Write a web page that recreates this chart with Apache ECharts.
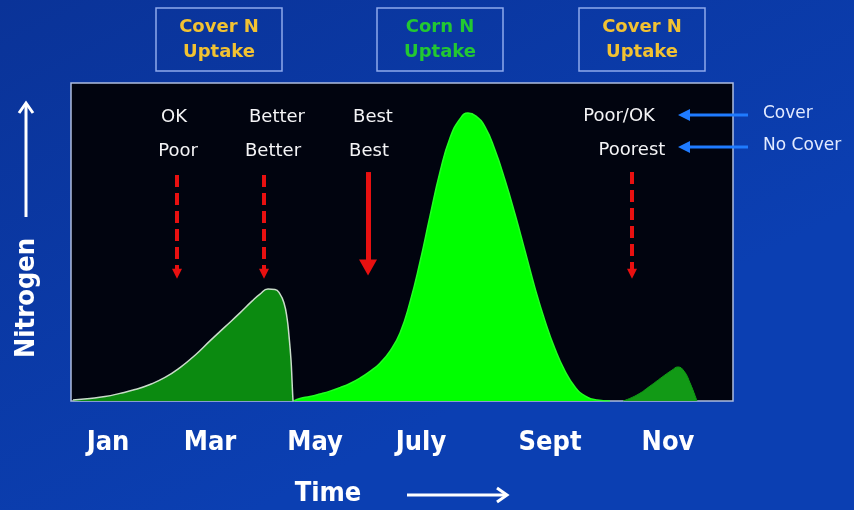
<!DOCTYPE html>
<html>
<head>
<meta charset="utf-8">
<script src="https://cdn.jsdelivr.net/npm/echarts@6/dist/echarts.min.js"></script>
<style>
  html, body { margin: 0; padding: 0; background: #0a3aa8; }
  #chart { width: 854px; height: 510px; }
</style>
</head>
<body>
<div id="chart"></div>
<script>
// Month axis (0 = start of January, 12 = end of December)
const monthLabels = ['Jan', 'Mar', 'May', 'July', 'Sept', 'Nov'];
const monthTickPos = [0.671, 2.520, 4.423, 6.344, 8.683, 10.822];

// Relative soil nitrogen uptake, [month, level]
const coverSpring = [[0.036,0.3],[0.344,0.8],[0.616,1.4],[0.888,2.4],[1.160,3.6],[1.432,5.2],[1.704,7.4],
  [1.976,10.5],[2.248,14.4],[2.519,18.9],[2.791,23.3],[3.063,27.7],[3.281,31.4],[3.426,33.6],
  [3.571,35.2],[3.698,35.1],[3.789,33.6],[3.861,30.8],[3.916,26.1],[3.952,20.4],[3.988,12.9],
  [4.006,6.6],[4.024,0.3],[4.03,0]];
const cornUptake = [[4.04,0],[4.151,0.8],[4.332,1.4],[4.514,2.2],[4.695,3.1],[4.876,4.2],[5.058,5.5],
  [5.239,7.2],[5.420,9.3],[5.601,11.9],[5.782,15.7],[5.964,21.4],[6.145,31.1],[6.326,43.7],
  [6.508,58.2],[6.689,72.0],[6.870,82.7],[7.051,88.7],[7.196,90.6],[7.341,89.6],[7.505,86.2],
  [7.686,78.9],[7.867,69.5],[8.048,58.8],[8.230,47.2],[8.411,35.5],[8.592,25.2],[8.773,16.4],
  [8.955,9.4],[9.136,4.4],[9.317,1.6],[9.535,0.3],[9.77,0]];
const coverFall = [[10.006,0],[10.26,1.9],[10.496,4.7],[10.713,7.5],[10.894,9.7],[11.003,10.7],
  [11.112,9.4],[11.221,5.7],[11.347,0]];

// Leaching-risk notes: [month, level, text]
const riskNotes = [
  [1.867, 89.3, 'OK'], [1.940, 78.6, 'Poor'],
  [3.734, 89.3, 'Better'], [3.662, 78.6, 'Better'],
  [5.474, 89.3, 'Best'], [5.402, 78.6, 'Best'],
  [9.934, 89.6, 'Poor/OK'], [10.169, 78.9, 'Poorest']
];
// Downward arrows: [month, fromLevel, toLevel, solid]
const riskArrows = [
  [1.921, 71.1, 40.0, false],
  [3.499, 71.1, 40.0, false],
  [5.384, 72.0, 42.0, true],
  [10.169, 72.0, 40.0, false]
];

const boxTitles = [
  { line1: 'Cover N', line2: 'Uptake', color: '#f2c232', x: 156 },
  { line1: 'Corn N', line2: 'Uptake', color: '#22c832', x: 377 },
  { line1: 'Cover N', line2: 'Uptake', color: '#f2c232', x: 579 }
];

const labelFont = "'DejaVu Sans Condensed', 'DejaVu Sans', sans-serif";

const chart = echarts.init(document.getElementById('chart'));

const graphic = [];
boxTitles.forEach(b => {
  graphic.push({
    type: 'rect', shape: { x: b.x, y: 8, width: 126, height: 63 },
    style: { fill: 'none', stroke: '#8fa9ec', lineWidth: 1.5 }
  });
  graphic.push({
    type: 'text', x: b.x + 63, y: 27,
    style: { text: b.line1, fill: b.color, font: "bold 18px 'DejaVu Sans', sans-serif", align: 'center', verticalAlign: 'middle' }
  });
  graphic.push({
    type: 'text', x: b.x + 63, y: 52,
    style: { text: b.line2, fill: b.color, font: "bold 18px 'DejaVu Sans', sans-serif", align: 'center', verticalAlign: 'middle' }
  });
});
// Cover / No Cover legend arrows
[[115, 'Cover'], [147, 'No Cover']].forEach(([y, t]) => {
  graphic.push({ type: 'line', shape: { x1: 748, y1: y, x2: 688, y2: y }, style: { stroke: '#1f7bff', lineWidth: 3 } });
  graphic.push({ type: 'polygon', shape: { points: [[678, y], [690, y - 6], [690, y + 6]] }, style: { fill: '#1f7bff' } });
  graphic.push({ type: 'text', x: 763, y: y - 1, style: { text: t, fill: '#e2eaff', font: "17px 'DejaVu Sans', sans-serif", verticalAlign: 'middle' } });
});
// Time axis title and arrow
graphic.push({ type: 'text', x: 328, y: 494, style: { text: 'Time', fill: '#ffffff', font: 'bold 27px ' + labelFont, align: 'center', verticalAlign: 'middle' } });
graphic.push({ type: 'line', shape: { x1: 407, y1: 495, x2: 506, y2: 495 }, style: { stroke: '#ffffff', lineWidth: 3 } });
graphic.push({ type: 'polyline', shape: { points: [[497, 488], [507, 495], [497, 502]] }, style: { stroke: '#ffffff', lineWidth: 3, fill: 'none' } });
// Nitrogen axis title and arrow
graphic.push({ type: 'text', x: 27, y: 298, rotation: Math.PI / 2, style: { text: 'Nitrogen', fill: '#ffffff', font: 'bold 27px ' + labelFont, align: 'center', verticalAlign: 'middle' } });
graphic.push({ type: 'line', shape: { x1: 26, y1: 217, x2: 26, y2: 104 }, style: { stroke: '#ffffff', lineWidth: 3 } });
graphic.push({ type: 'polyline', shape: { points: [[19, 113], [26, 103], [33, 113]] }, style: { stroke: '#ffffff', lineWidth: 3, fill: 'none' } });

const arrowLines = riskArrows.map(a => [
  { coord: [a[0], a[1]], symbol: 'none' },
  {
    coord: [a[0], a[2]], symbol: 'triangle', symbolSize: a[3] ? [18, 16] : [10, 10],
    lineStyle: { type: a[3] ? 'solid' : [12, 6], width: a[3] ? 5 : 4, color: '#e81010' }
  }
]);

chart.setOption({
  backgroundColor: {
    type: 'linear', x: 0, y: 0, x2: 0.3, y2: 1,
    colorStops: [{ offset: 0, color: '#0a3398' }, { offset: 1, color: '#0b3fb2' }]
  },
  animation: false,
  grid: {
    left: 71, top: 83, right: 121, bottom: 109,
    show: true, backgroundColor: '#01040f', borderColor: '#aebde0', borderWidth: 1.5
  },
  xAxis: {
    type: 'value', min: 0, max: 12,
    axisLine: { show: false }, axisTick: { show: false }, splitLine: { show: false },
    axisLabel: {
      customValues: monthTickPos,
      formatter: v => monthLabels[monthTickPos.indexOf(v)] || '',
      color: '#ffffff', fontFamily: labelFont, fontWeight: 'bold', fontSize: 27, margin: 28
    }
  },
  yAxis: {
    type: 'value', min: 0, max: 100,
    axisLine: { show: false }, axisTick: { show: false }, splitLine: { show: false }, axisLabel: { show: false }
  },
  graphic,
  series: [
    {
      type: 'line', data: coverSpring, smooth: 0.5, symbol: 'none',
      lineStyle: { color: '#c9dcc9', width: 1.5 }, areaStyle: { color: '#0b8a10', opacity: 1 }, z: 3
    },
    {
      type: 'line', data: cornUptake, smooth: 0.5, symbol: 'none',
      lineStyle: { color: '#22ff22', width: 1.5 }, areaStyle: { color: '#00ff00', opacity: 1 }, z: 3
    },
    {
      type: 'line', data: coverFall, smooth: 0.5, symbol: 'none',
      lineStyle: { color: '#129a16', width: 1 }, areaStyle: { color: '#129a16', opacity: 1 }, z: 3
    },
    {
      type: 'scatter', data: riskNotes, symbolSize: 0, z: 5,
      itemStyle: { opacity: 1 },
      label: {
        show: true, position: 'inside', formatter: p => p.data[2], opacity: 1,
        color: '#f4f4f6', textBorderWidth: 0, fontFamily: "'DejaVu Sans', sans-serif", fontSize: 18
      },
      markLine: { silent: true, symbol: ['none', 'triangle'], label: { show: false }, data: arrowLines, z: 5 }
    }
  ]
});
</script>
</body>
</html>
